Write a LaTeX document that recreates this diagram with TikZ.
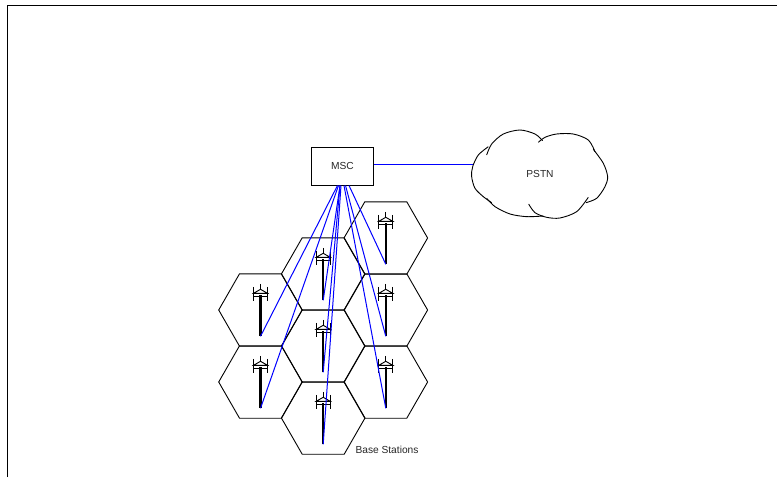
\documentclass[tikz,border=0pt]{standalone}
\usepackage{fontspec}
\setmainfont{Liberation Sans}
\tikzset{
    link/.style={blue, line width=1pt},
    thinline/.style={line width=0.9pt},
    label/.style={font=\fontsize{10.2}{12}\selectfont, text=black!85, inner sep=0pt},
    cell/.pic={
        \draw[thinline] (-21,-36.2) -- (21,-36.2) -- (41.8,0) -- (21,36.2) -- (-21,36.2) -- (-41.8,0) -- cycle;
    },
    mast/.pic={
        \draw[line width=2.2pt] (0,-41) -- (0,0);
        \draw[thinline] (-7,-49.5) -- (-7,-35);
        \draw[thinline] (7,-49.5) -- (7,-35);
        \draw[thinline] (0,-52.5) -- (0,-47);
        \draw[thinline, fill=white] (-7,-43) -- (0,-47) -- (7,-43) -- cycle;
        \draw[thinline] (-7,-40) -- (7,-40);
    }
}
\begin{document}
\begin{tikzpicture}[x=1pt, y=-1pt]
    \useasboundingbox (0,0) rectangle (777,477);

    % Outer frame
    \draw[line width=1pt] (7.5,477) -- (7.5,5) -- (777,5);

    % Cells with their base stations
    \foreach \cx/\cy/\nm in {385.8/238/bsa, 385.8/310/bsb, 385.8/382/bsc,
                             323.2/274/bsd, 323.2/346/bse, 323.2/418/bsf,
                             260.5/310/bsg, 260.5/382/bsh} {
        \pic at (\cx,\cy) {cell};
        \coordinate (\nm) at (\cx,\cy+26.3);
        \pic at (\nm) {mast};
    }

    % Switch and labels
    \node[draw, line width=1pt, fill=white, minimum width=62.4pt, minimum height=37.4pt, label] (msc) at (342.5,166.3) {MSC};
    \node[label] (pstn) at (540,173.5) {PSTN};
    \node[label] (bslabel) at (387,450.3) {Base Stations};

    % Cloud
    \coordinate (cloudw) at (473,164.3);
    \begin{scope}[shift={(460,120)}, x=0.3333pt, y=-0.3333pt]
        \draw[thinline] plot[smooth] coordinates {(248,62) (225,42) (180,30) (130,42) (95,72) (80,105)};
        \draw[thinline] plot[smooth] coordinates {(85,80) (55,105) (38,140) (35,170) (45,205) (70,230) (95,248)};
        \draw[thinline] plot[smooth] coordinates {(80,235) (105,260) (150,282) (200,290) (250,288)};
        \draw[thinline] plot[smooth] coordinates {(206,252) (225,278) (260,292) (300,294) (350,275) (385,232)};
        \draw[thinline] plot[smooth] coordinates {(378,248) (410,235) (435,200) (443,170) (430,130) (400,88)};
        \draw[thinline] plot[smooth] coordinates {(405,95) (385,60) (340,42) (290,42) (255,52) (235,67)};
    \end{scope}

    % Links
    \draw[link] ([yshift=2pt]msc.east) -- (cloudw);
    \draw[link] ([xshift=6.5pt]msc.south) -- (bsa);
    \draw[link] ([xshift=3pt]msc.south) -- (bsb);
    \draw[link] ([xshift=1.5pt]msc.south) -- (bsc);
    \draw[link] ([xshift=-2.5pt]msc.south) -- (bsd);
    \draw[link] ([xshift=-2.5pt]msc.south) -- (bse);
    \draw[link] ([xshift=-1.5pt]msc.south) -- (bsf);
    \draw[link] ([xshift=-5pt]msc.south) -- (bsg);
    \draw[link] ([xshift=-4pt]msc.south) -- (bsh);
\end{tikzpicture}
\end{document}
